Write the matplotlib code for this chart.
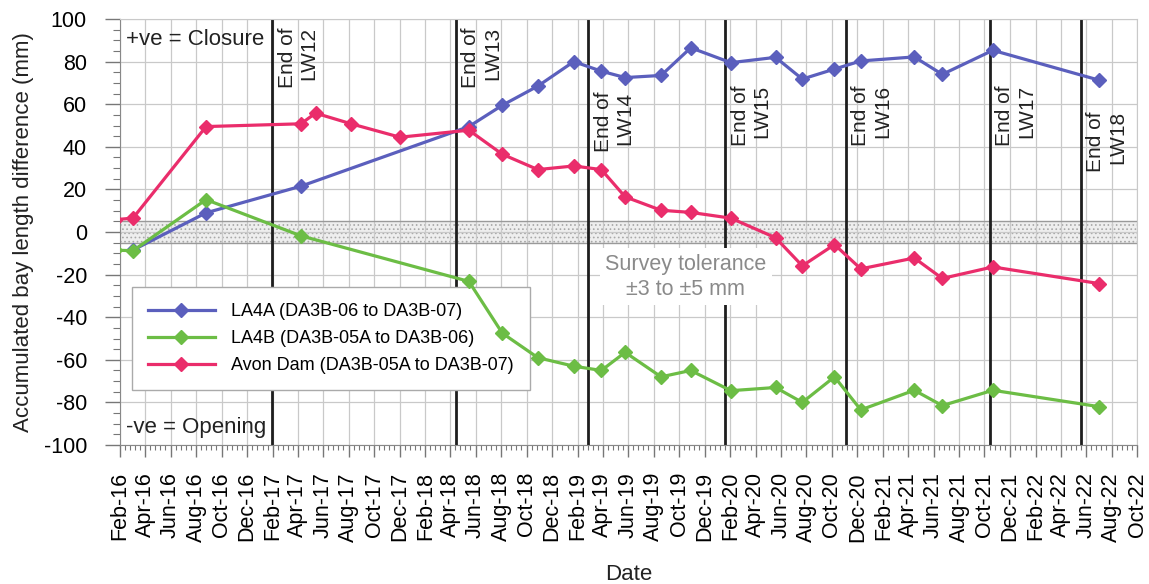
import numpy as np
import pandas as pd
import matplotlib
matplotlib.use("Agg")
import matplotlib.pyplot as plt
import matplotlib.dates as mdates

plt.rcParams['font.family'] = ['Liberation Sans', 'DejaVu Sans']
plt.rcParams['hatch.linewidth'] = 0.7
plt.rcParams['axes.unicode_minus'] = False

# survey dates shared by the three bays
dates_la4a = ['2016-03-03', '2016-08-25', '2017-04-09', '2018-05-16', '2018-08-04',
              '2018-10-28', '2019-01-22', '2019-03-29', '2019-05-25', '2019-08-19',
              '2019-10-29', '2020-02-02', '2020-05-19', '2020-07-22', '2020-10-07',
              '2020-12-09', '2021-04-16', '2021-06-22', '2021-10-21', '2022-07-02']
la4a = [-8.5, 9, 21.5, 49.5, 59.5, 68.5, 80, 75.5, 72.5, 73.5,
        86.5, 79.5, 82, 71.8, 76.5, 80.3, 82.2, 74, 85.3, 71.3]

dates_la4b = ['2016-01-20', '2016-03-03', '2016-08-25', '2017-04-09', '2018-05-16',
              '2018-08-04', '2018-10-28', '2019-01-22', '2019-03-29', '2019-05-25',
              '2019-08-19', '2019-10-29', '2020-02-02', '2020-05-19', '2020-07-22',
              '2020-10-07', '2020-12-09', '2021-04-16', '2021-06-22', '2021-10-21',
              '2022-07-02']
la4b = [-8.5, -8.8, 15.2, -1.8, -23.2, -47.5, -59, -63, -65, -56.5,
        -68, -65, -74.5, -73, -80, -68, -83.5, -74.3, -81.5, -74.3, -82]

dates_avon = ['2016-01-20', '2016-03-03', '2016-08-25', '2017-04-09', '2017-05-14',
              '2017-08-07', '2017-12-02', '2018-05-16', '2018-08-04', '2018-10-28',
              '2019-01-22', '2019-03-29', '2019-05-25', '2019-08-19', '2019-10-29',
              '2020-02-02', '2020-05-19', '2020-07-22', '2020-10-07', '2020-12-09',
              '2021-04-16', '2021-06-22', '2021-10-21', '2022-07-02']
avon = [5.8, 6.5, 49.5, 50.8, 55.8, 50.8, 44.5, 47.8, 36.5, 29.3,
        31, 29.3, 16.5, 10.2, 9.2, 6.5, -2.7, -15.9, -5.9, -17.3,
        -12.2, -21.8, -16.4, -24.2]

lw_names = ['LW12', 'LW13', 'LW14', 'LW15', 'LW16', 'LW17', 'LW18']
lw_end = ['2017-01-30', '2018-04-14', '2019-02-25', '2020-01-19',
          '2020-11-03', '2021-10-14', '2022-05-19']
lw_label_top = [0.981, 0.981, 0.829, 0.845, 0.845, 0.845, 0.784]

series_labels = ['LA4A (DA3B-06 to DA3B-07)',
                 'LA4B (DA3B-05A to DA3B-06)',
                 'Avon Dam (DA3B-05A to DA3B-07)']
series_colors = ['#5b5fbd', '#6cbd45', '#ea2d6b']

tolerance = 5

fig = plt.figure(figsize=(11.49, 5.84), dpi=100)
ax = fig.add_axes([120 / 1149, 1 - 445 / 584, 1017 / 1149, 426 / 584])

for d, v, lab, col in zip([dates_la4a, dates_la4b, dates_avon], [la4a, la4b, avon],
                          series_labels, series_colors):
    ax.plot(pd.to_datetime(d), v, color=col, lw=2.3, marker='D', ms=7,
            label=lab, zorder=3)

# survey tolerance band
ax.axhspan(-tolerance, tolerance, facecolor='#eeeeee', edgecolor='#a8a8a8',
           hatch='....', lw=0, zorder=0.3)
for yy in (-tolerance, tolerance):
    ax.axhline(yy, color='#9a9a9a', lw=1, zorder=0.6)

for name, d, top in zip(lw_names, lw_end, lw_label_top):
    dt = pd.Timestamp(d)
    ax.axvline(dt, color='#1e1e1e', lw=2, zorder=2)
    ax.annotate('End of\n' + name, xy=(dt, top), xycoords=('data', 'axes fraction'),
                xytext=(4, 0), textcoords='offset points', rotation=90,
                ha='left', va='top', multialignment='right', fontsize=15,
                color='#222222', zorder=2.5)

ax.text(pd.Timestamp('2019-10-17'), -21, 'Survey tolerance\n\u00b13 to \u00b15 mm',
        ha='center', va='center', fontsize=15.5, color='#8a8a8a', linespacing=1.25,
        bbox=dict(facecolor='white', edgecolor='none', pad=4), zorder=2.7)

ax.text(0.006, 0.951, '+ve = Closure', transform=ax.transAxes, fontsize=16,
        va='center', ha='left', color='#222222')
ax.text(0.006, 0.04, '-ve = Opening', transform=ax.transAxes, fontsize=16,
        va='center', ha='left', color='#222222')

# axes
xmin, xmax = pd.Timestamp('2016-02-01'), pd.Timestamp('2022-10-01')
ax.set_xlim(xmin, xmax)
ax.set_ylim(-100, 100)
major_dates = pd.date_range(xmin, xmax, freq='2MS')
major_num = mdates.date2num(major_dates)
minor_num = np.concatenate([np.linspace(a, b, 6)[1:-1]
                            for a, b in zip(major_num[:-1], major_num[1:])])
ax.set_xticks(major_num)
ax.set_xticks(minor_num, minor=True)
ax.set_xticklabels([d.strftime('%b-%y') for d in major_dates], rotation=90)
ax.set_yticks(np.arange(-100, 101, 20))
ax.set_yticks(np.arange(-100, 101, 5), minor=True)

ax.tick_params(axis='x', which='major', length=8.5, width=1, color='#777777',
               pad=11, labelsize=15.5)
ax.tick_params(axis='x', which='minor', length=3.5, width=0.8, color='#777777')
ax.tick_params(axis='y', which='major', length=10.8, width=1, color='#777777',
               pad=13, labelsize=15.5)
ax.tick_params(axis='y', which='minor', length=5, width=0.8, color='#777777')

ax.set_axisbelow(True)
ax.grid(True, which='major', color='#c9c9c9', lw=0.9)
for side in ('left', 'bottom'):
    ax.spines[side].set_color('#888888')
for side in ('top', 'right'):
    ax.spines[side].set_color('#c9c9c9')

leg = ax.legend(loc='upper left', bbox_to_anchor=(0.0115, 0.371), borderaxespad=0,
                fontsize=13, frameon=True, fancybox=False, framealpha=1,
                edgecolor='#aaaaaa', handlelength=3.7, handletextpad=0.9,
                labelspacing=0.55, borderpad=0.9, numpoints=1)
leg.get_frame().set_linewidth(1)
leg.set_zorder(2.8)

fig.text(24 / 1149, 1 - 232 / 584, 'Accumulated bay length difference (mm)',
         rotation=90, ha='center', va='center', fontsize=16, color='#222222')
fig.text((120 + 1137) / 2 / 1149, 1 - 574 / 584, 'Date', ha='center', va='center',
         fontsize=16, color='#222222')

fig.savefig('out.png', dpi=100)
